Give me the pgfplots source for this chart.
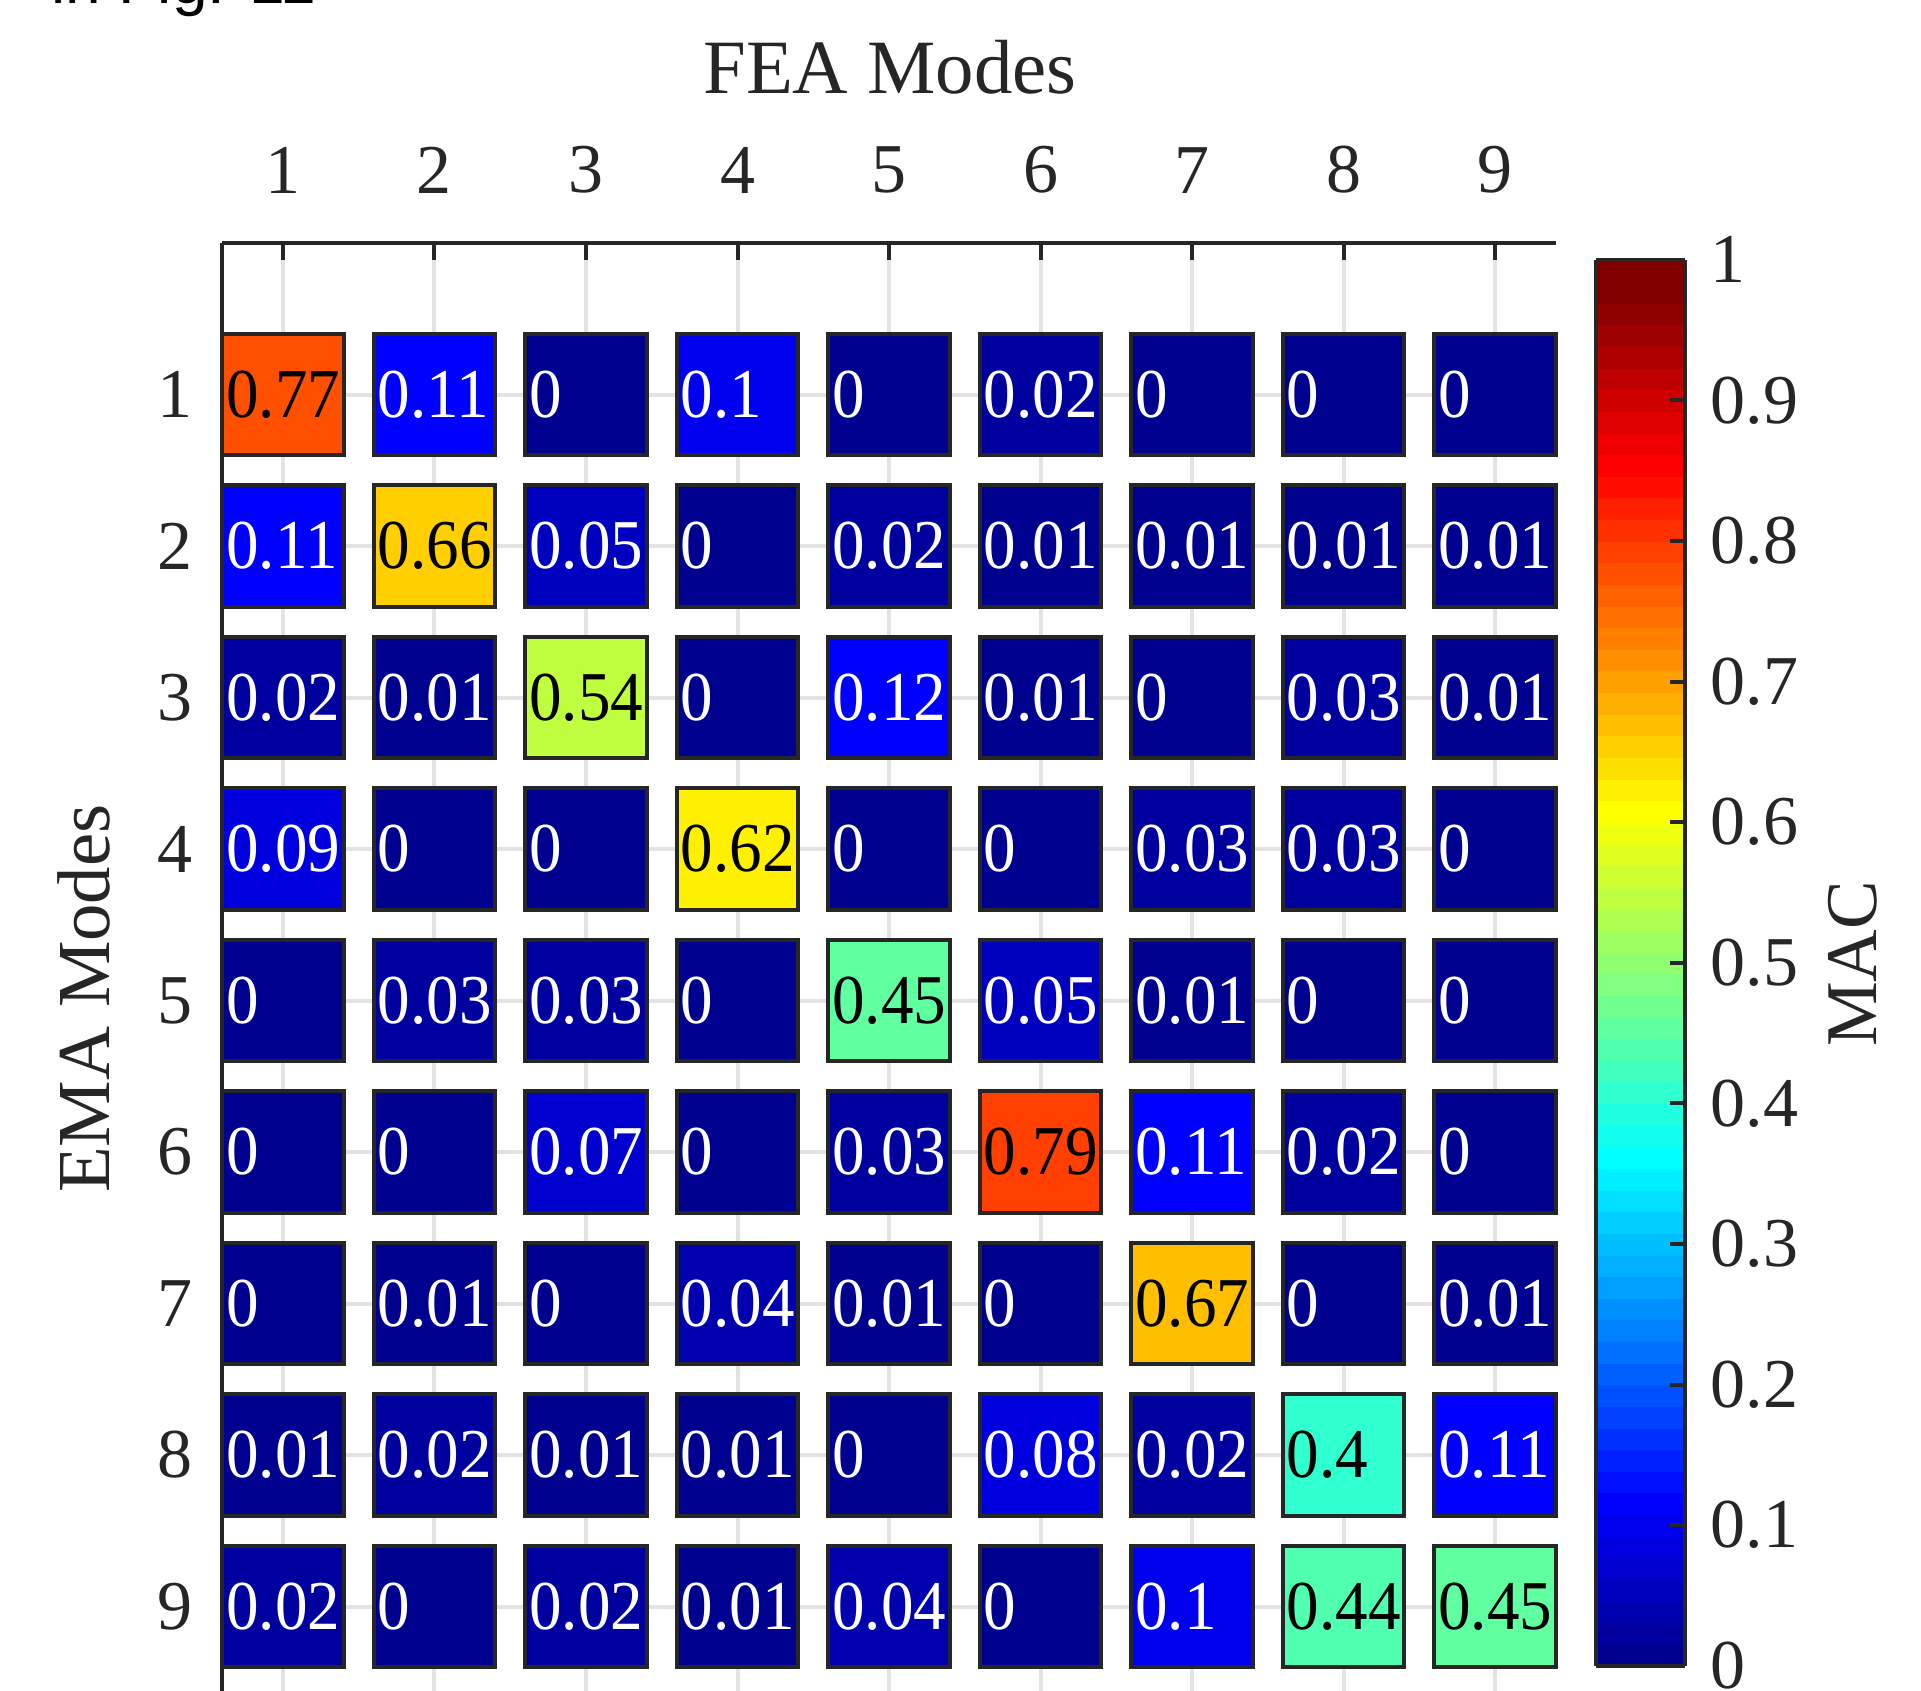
\documentclass[border=0pt]{standalone}
\usepackage{pgfplots}
\pgfplotsset{compat=1.18}
\usepackage{pgfplotstable}
\usepackage{fontspec}
\setmainfont{Liberation Serif}
\newfontfamily\narrowfont{Liberation Serif}[FakeStretch=0.93]
\newfontfamily\figsans{Liberation Sans}
\usetikzlibrary{calc}

\pgfplotstableread{
x y v
2 1 0.11
3 1 0
4 1 0.1
5 1 0
6 1 0.02
7 1 0
8 1 0
9 1 0
1 2 0.11
3 2 0.05
4 2 0
5 2 0.02
6 2 0.01
7 2 0.01
8 2 0.01
9 2 0.01
1 3 0.02
2 3 0.01
4 3 0
5 3 0.12
6 3 0.01
7 3 0
8 3 0.03
9 3 0.01
1 4 0.09
2 4 0
3 4 0
5 4 0
6 4 0
7 4 0.03
8 4 0.03
9 4 0
1 5 0
2 5 0.03
3 5 0.03
4 5 0
6 5 0.05
7 5 0.01
8 5 0
9 5 0
1 6 0
2 6 0
3 6 0.07
4 6 0
5 6 0.03
7 6 0.11
8 6 0.02
9 6 0
1 7 0
2 7 0.01
3 7 0
4 7 0.04
5 7 0.01
6 7 0
8 7 0
9 7 0.01
1 8 0.01
2 8 0.02
3 8 0.01
4 8 0.01
5 8 0
6 8 0.08
7 8 0.02
9 8 0.11
1 9 0.02
2 9 0
3 9 0.02
4 9 0.01
5 9 0.04
6 9 0
7 9 0.1
}\lowdata

\pgfplotstableread{
x y v
1 1 0.77
2 2 0.66
3 3 0.54
4 4 0.62
5 5 0.45
6 6 0.79
7 7 0.67
8 8 0.4
8 9 0.44
9 9 0.45
}\highdata

\pgfplotsset{
  colormap={matjet}{
    rgb=(0,0,0.5625) rgb=(0,0,0.625) rgb=(0,0,0.6875) rgb=(0,0,0.75)
    rgb=(0,0,0.8125) rgb=(0,0,0.875) rgb=(0,0,0.9375) rgb=(0,0,1)
    rgb=(0,0.0625,1) rgb=(0,0.125,1) rgb=(0,0.1875,1) rgb=(0,0.25,1)
    rgb=(0,0.3125,1) rgb=(0,0.375,1) rgb=(0,0.4375,1) rgb=(0,0.5,1)
    rgb=(0,0.5625,1) rgb=(0,0.625,1) rgb=(0,0.6875,1) rgb=(0,0.75,1)
    rgb=(0,0.8125,1) rgb=(0,0.875,1) rgb=(0,0.9375,1) rgb=(0,1,1)
    rgb=(0.0625,1,0.9375) rgb=(0.125,1,0.875) rgb=(0.1875,1,0.8125) rgb=(0.25,1,0.75)
    rgb=(0.3125,1,0.6875) rgb=(0.375,1,0.625) rgb=(0.4375,1,0.5625) rgb=(0.5,1,0.5)
    rgb=(0.5625,1,0.4375) rgb=(0.625,1,0.375) rgb=(0.6875,1,0.3125) rgb=(0.75,1,0.25)
    rgb=(0.8125,1,0.1875) rgb=(0.875,1,0.125) rgb=(0.9375,1,0.0625) rgb=(1,1,0)
    rgb=(1,0.9375,0) rgb=(1,0.875,0) rgb=(1,0.8125,0) rgb=(1,0.75,0)
    rgb=(1,0.6875,0) rgb=(1,0.625,0) rgb=(1,0.5625,0) rgb=(1,0.5,0)
    rgb=(1,0.4375,0) rgb=(1,0.375,0) rgb=(1,0.3125,0) rgb=(1,0.25,0)
    rgb=(1,0.1875,0) rgb=(1,0.125,0) rgb=(1,0.0625,0) rgb=(1,0,0)
    rgb=(0.9375,0,0) rgb=(0.875,0,0) rgb=(0.8125,0,0) rgb=(0.75,0,0)
    rgb=(0.6875,0,0) rgb=(0.625,0,0) rgb=(0.5625,0,0) rgb=(0.5,0,0)
    rgb=(0.5,0,0)
  },
}

\begin{document}
\begin{tikzpicture}
\begin{axis}[
  at={(0pt,0pt)}, anchor=north west,
  x=37.875pt, y=37.875pt, y dir=reverse,
  xmin=0.6, xmax=9.4, ymin=0, ymax=9.56,
  axis x line*=top, axis y line*=left,
  axis line style={-, black!85, line width=1pt},
  xtick={1,...,9}, ytick={1,...,9},
  tick align=inside, major tick length=4.25pt,
  tick style={black!85, line width=1pt},
  grid=major, major grid style={gray!22, line width=1pt},
  /pgf/number format/assume math mode=true,
  /pgf/number format/fixed, /pgf/number format/precision=2,
  ticklabel style={font=\fontsize{17.5}{20}\selectfont, text=black!85},
  xticklabel style={yshift=8.8pt},
  yticklabel style={xshift=-4pt},
  colormap name=matjet, colormap access=piecewise constant,
  point meta min=0, point meta max=1,
  clip=false,
  colorbar,
  colorbar style={
    at={($(parent axis.north east)+(1.6pt,-4.2pt)$)}, anchor=north west,
    scale only axis, width=22.1pt, height=351.5pt,
    ymin=0, ymax=1,
    ytick={0,0.1,0.2,0.3,0.4,0.5,0.6,0.7,0.8,0.9,1},
    yticklabels={0,0.1,0.2,0.3,0.4,0.5,0.6,0.7,0.8,0.9,1},
    ytick pos=right, yticklabel pos=right,
    tick align=inside, major tick length=3.75pt,
    tick style={black!85, line width=1pt},
    axis line style={black!85, line width=1pt},
    yticklabel style={font=\fontsize{17.5}{20}\selectfont, text=black!85, xshift=3pt},
  },
]
% coloured squares
\addplot[scatter, only marks, mark=square*, mark size=15.15pt,
  point meta=explicit,
  scatter/use mapped color={draw=black!85, fill=mapped color, line width=1pt},
] table[x=x, y=y, meta=v] {\lowdata};
\addplot[scatter, only marks, mark=square*, mark size=15.15pt,
  point meta=explicit,
  scatter/use mapped color={draw=black!85, fill=mapped color, line width=1pt},
] table[x=x, y=y, meta=v] {\highdata};
% value labels
\addplot[draw=none, mark=none, point meta=explicit,
  nodes near coords,
  every node near coord/.append style={anchor=west, xshift=-14.35pt, inner sep=0pt,
     font=\narrowfont\fontsize{17.5}{20}\selectfont, text=white},
] table[x=x, y=y, meta=v] {\lowdata};
\addplot[draw=none, mark=none, point meta=explicit,
  nodes near coords,
  every node near coord/.append style={anchor=west, xshift=-14.35pt, inner sep=0pt,
     font=\narrowfont\fontsize{17.5}{20}\selectfont, text=black},
] table[x=x, y=y, meta=v] {\highdata};
\end{axis}
\node[anchor=base, font=\fontsize{19.2}{22}\selectfont, text=black!85] at (166.9pt,37.25pt) {FEA Modes};
\node[anchor=base, rotate=90, font=\fontsize{18.7}{22}\selectfont, text=black!85] at (-28.1pt,-188.9pt) {EMA Modes};
\node[anchor=base, rotate=90, font=\fontsize{18.2}{22}\selectfont, text=black!85] at (413.4pt,-180.25pt) {MAC};
\node[anchor=base west, inner sep=0pt, font=\figsans\fontsize{16}{20}\selectfont] at (-43pt,59.75pt) {in Fig. 11};
\pgfresetboundingbox
\useasboundingbox (-55.6pt,-362pt) rectangle (424.65pt,60.75pt);
\end{tikzpicture}
\end{document}
